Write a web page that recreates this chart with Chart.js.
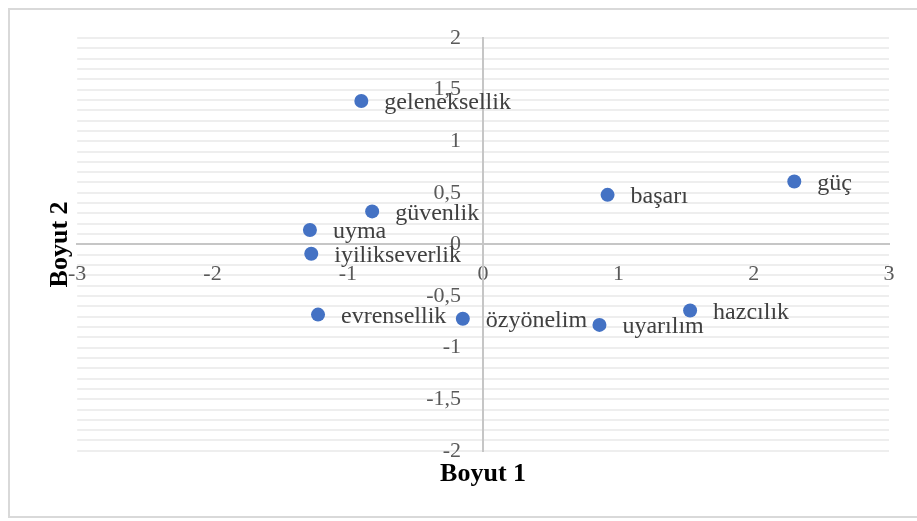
<!DOCTYPE html>
<html>
<head>
<meta charset="utf-8">
<script src="https://cdn.jsdelivr.net/npm/chart.js@4/dist/chart.umd.min.js"></script>
<style>
  html, body { margin: 0; padding: 0; background: #fff; }
  #wrap { position: relative; width: 917px; height: 521px; }
  #frame { position: absolute; left: 8px; top: 8px; width: 920px; height: 510px; border: 2px solid #d9d9d9; box-sizing: border-box; pointer-events: none; }
  canvas { position: absolute; left: 0; top: 0; }
</style>
</head>
<body>
<div id="wrap">
  <canvas id="c" width="917" height="521"></canvas>
  <div id="frame"></div>
</div>
<script>
const labels = ["geleneksellik", "güvenlik", "uyma", "iyilikseverlik", "evrensellik", "özyönelim", "uyarılım", "hazcılık", "başarı", "güç"];
const boyut1 = [-0.90, -0.82, -1.28, -1.27, -1.22, -0.15, 0.86, 1.53, 0.92, 2.30];
const boyut2 = [1.39, 0.32, 0.14, -0.09, -0.68, -0.72, -0.78, -0.64, 0.48, 0.61];
const xTicks = [-3, -2, -1, 0, 1, 2, 3];
const yTicks = [];
for (let i = -20; i <= 20; i++) yTicks.push(i / 10);
const yLabelEvery = 0.5;

const points = boyut1.map((x, i) => ({ x: x, y: boyut2[i] }));
const fmt = v => String(Math.round(v * 10) / 10).replace('.', ',');
const SERIF = '"Liberation Serif", "Times New Roman", serif';

const pointLabels = {
  id: 'pointLabels',
  afterDatasetsDraw(chart) {
    const ctx = chart.ctx;
    const meta = chart.getDatasetMeta(0);
    ctx.save();
    ctx.font = '24px ' + SERIF;
    ctx.fillStyle = '#404040';
    ctx.textAlign = 'left';
    ctx.textBaseline = 'middle';
    meta.data.forEach((el, i) => {
      ctx.fillText(labels[i], el.x + 23, el.y + 2);
    });
    ctx.restore();
  }
};

new Chart(document.getElementById('c'), {
  type: 'scatter',
  data: {
    datasets: [{
      data: points,
      backgroundColor: '#4472C4',
      borderColor: '#4472C4',
      pointRadius: 7,
      pointHoverRadius: 7,
      borderWidth: 0
    }]
  },
  options: {
    responsive: false,
    animation: false,
    events: [],
    layout: { padding: { left: 38, right: 28, top: 38, bottom: 31 } },
    plugins: { legend: { display: false }, tooltip: { enabled: false } },
    scales: {
      x: {
        type: 'linear', min: -3, max: 3,
        position: { y: 0 },
        afterBuildTicks: axis => { axis.ticks = xTicks.map(v => ({ value: v })); },
        grid: { display: false },
        border: { display: true, color: '#c6c6c6', width: 2 },
        ticks: {
          autoSkip: false, maxRotation: 0, padding: 9,
          color: '#595959',
          font: { family: SERIF, size: 22 },
          callback: v => fmt(v)
        }
      },
      y: {
        type: 'linear', min: -2, max: 2,
        position: { x: 0 },
        afterBuildTicks: axis => { axis.ticks = yTicks.map(v => ({ value: v })); },
        grid: { display: true, color: '#eeeeee', lineWidth: 2, drawTicks: false },
        border: { display: true, color: '#c6c6c6', width: 2 },
        ticks: {
          autoSkip: false, padding: 20,
          color: '#595959',
          font: { family: SERIF, size: 22 },
          callback: v => (Math.abs(v / yLabelEvery - Math.round(v / yLabelEvery)) < 1e-6 ? fmt(v) + '    ' : '')
        }
      },
      xt: {
        type: 'linear', min: -3, max: 3, position: 'bottom',
        grid: { display: false }, border: { display: false },
        ticks: { display: false },
        title: {
          display: true, text: 'Boyut 1', color: '#000',
          font: { family: SERIF, size: 26, weight: 'bold' },
          padding: { top: 0, bottom: 0 }
        }
      },
      yt: {
        type: 'linear', min: -2, max: 2, position: 'left',
        grid: { display: false }, border: { display: false },
        ticks: { display: false },
        title: {
          display: true, text: 'Boyut 2', color: '#000',
          font: { family: SERIF, size: 26, weight: 'bold' },
          padding: { top: 7, bottom: -7 }
        }
      }
    }
  },
  plugins: [pointLabels]
});
</script>
</body>
</html>
